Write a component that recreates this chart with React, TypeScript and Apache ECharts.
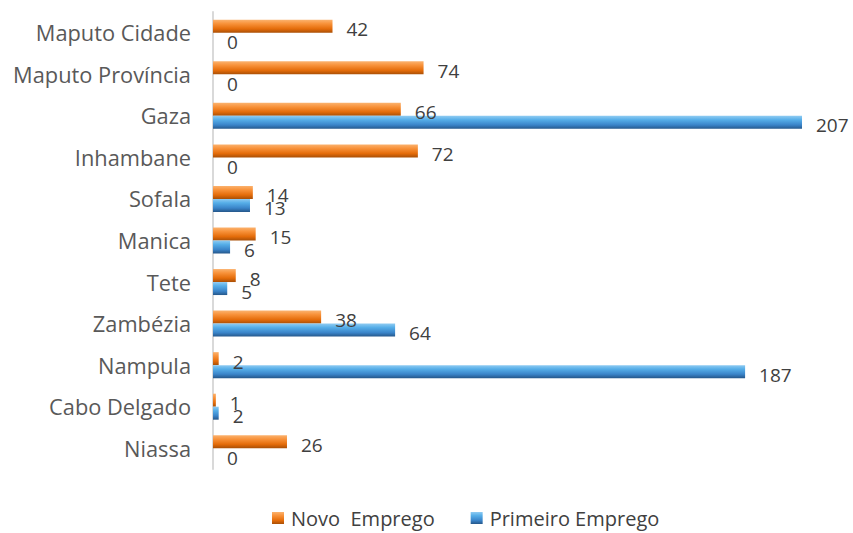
import React, { useEffect, useRef } from "react";
import * as echarts from "echarts";

const categories = [
  "Niassa",
  "Cabo Delgado",
  "Nampula",
  "Zambézia",
  "Tete",
  "Manica",
  "Sofala",
  "Inhambane",
  "Gaza",
  "Maputo Província",
  "Maputo Cidade",
];
const novoEmprego = [26, 1, 2, 38, 8, 15, 14, 72, 66, 74, 42];
const primeiroEmprego = [0, 2, 187, 64, 5, 6, 13, 0, 207, 0, 0];
const seriesNames = ["Novo  Emprego", "Primeiro Emprego"];

const FONT = "'Open Sans', sans-serif";

const orangeGrad = new echarts.graphic.LinearGradient(0, 0, 0, 1, [
  { offset: 0, color: "#FBB26E" },
  { offset: 0.3, color: "#F8923A" },
  { offset: 0.7, color: "#E46C0A" },
  { offset: 1, color: "#A94F06" },
]);
const blueGrad = new echarts.graphic.LinearGradient(0, 0, 0, 1, [
  { offset: 0, color: "#8FCBF2" },
  { offset: 0.3, color: "#56AEE8" },
  { offset: 0.7, color: "#3A84C9" },
  { offset: 1, color: "#25578A" },
]);

export default function App() {
  const ref = useRef<HTMLDivElement>(null);
  useEffect(() => {
    if (!ref.current) return;
    const chart = echarts.init(ref.current, undefined, { renderer: "svg" });
    const label = {
      show: true,
      position: "right" as const,
      distance: 14,
      offset: [0, 3],
      color: "#404040",
      fontSize: 19,
      fontFamily: FONT,
    };
    chart.setOption({
      animation: false,
      backgroundColor: "#ffffff",
      grid: { left: 213, right: 14, top: 12, bottom: 64, containLabel: false },
      legend: {
        data: seriesNames,
        top: 508,
        left: 272,
        padding: 0,
        icon: "rect",
        itemWidth: 12,
        itemHeight: 12,
        itemGap: 36,
        textStyle: { color: "#404040", fontSize: 20, fontFamily: FONT, padding: [0, 0, 0, 2] },
      },
      xAxis: { type: "value", min: 0, max: 220, show: false },
      yAxis: {
        type: "category",
        data: categories,
        axisLine: { show: true, lineStyle: { color: "#D9D9D9", width: 2 } },
        axisTick: { show: false },
        axisLabel: { color: "#595959", fontSize: 21.8, fontFamily: FONT, margin: 22 },
      },
      series: [
        {
          name: seriesNames[0],
          type: "bar",
          data: novoEmprego,
          barWidth: 13,
          barGap: "0%",
          itemStyle: { color: orangeGrad },
          label,
        },
        {
          name: seriesNames[1],
          type: "bar",
          data: primeiroEmprego,
          barWidth: 13,
          barGap: "0%",
          itemStyle: { color: blueGrad },
          label,
        },
      ],
    });
    return () => chart.dispose();
  }, []);
  return (
    <div
      ref={ref}
      style={{ position: "fixed", left: 0, top: 0, width: 853, height: 533 }}
    />
  );
}
